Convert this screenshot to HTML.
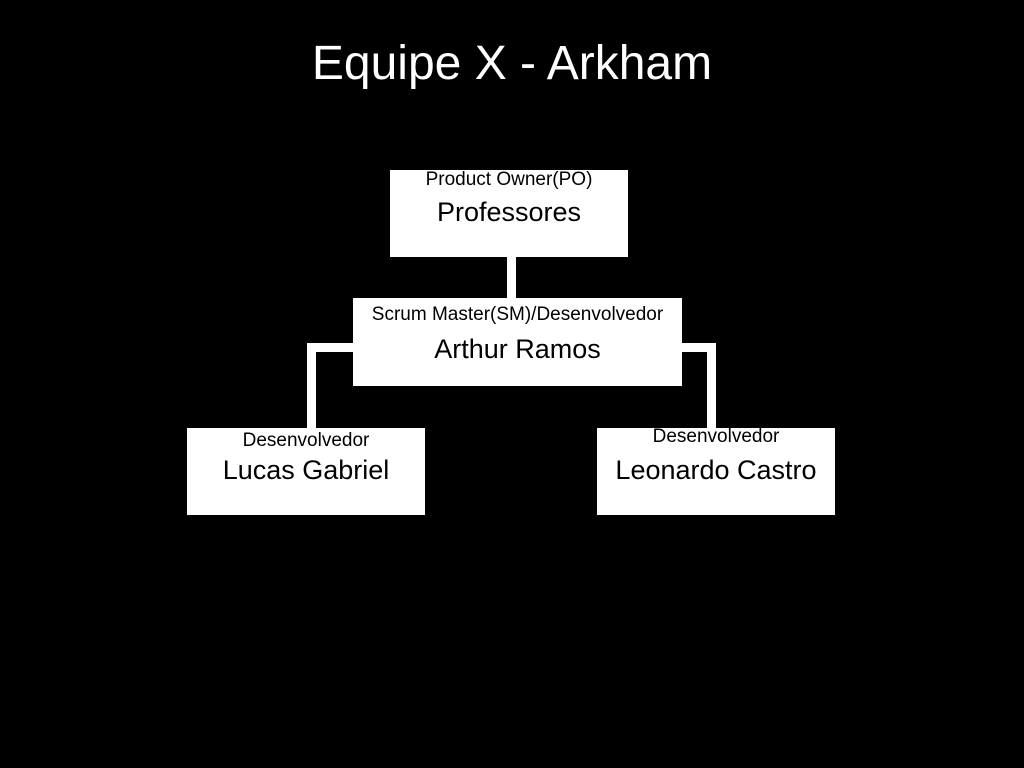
<!DOCTYPE html>
<html><head><style>
body{margin:0;width:1024px;height:768px;background:#000;position:relative;overflow:hidden;font-family:"Liberation Sans","DejaVu Sans",sans-serif;}
.t{position:absolute;left:0;width:1024px;top:36px;text-align:center;color:#fff;font-size:48px;}
.b{position:absolute;background:#fff;color:#000;text-align:center;}
.s{position:absolute;left:0;right:0;font-size:19px;}
.n{position:absolute;left:0;right:0;font-size:27px;}
.l{position:absolute;background:#fff;}
</style></head><body>
<div class="t">Equipe X - Arkham</div>
<div class="l" style="left:507px;top:257px;width:9px;height:42px"></div>
<div class="l" style="left:307px;top:343px;width:46px;height:9px"></div>
<div class="l" style="left:307px;top:343px;width:9px;height:86px"></div>
<div class="l" style="left:682px;top:343px;width:34px;height:9px"></div>
<div class="l" style="left:707px;top:343px;width:9px;height:86px"></div>
<div class="b" style="left:390px;top:170px;width:238px;height:87px"><div class="s" style="top:-1px">Product Owner(PO)</div><div class="n" style="top:27px">Professores</div></div>
<div class="b" style="left:353px;top:298px;width:329px;height:88px"><div class="s" style="top:6px">Scrum Master(SM)/Desenvolvedor</div><div class="n" style="top:36px">Arthur Ramos</div></div>
<div class="b" style="left:187px;top:428px;width:238px;height:87px"><div class="s" style="top:2px">Desenvolvedor</div><div class="n" style="top:27px">Lucas Gabriel</div></div>
<div class="b" style="left:597px;top:428px;width:238px;height:87px"><div class="s" style="top:-2px">Desenvolvedor</div><div class="n" style="top:27px">Leonardo Castro</div></div>
</body></html>
